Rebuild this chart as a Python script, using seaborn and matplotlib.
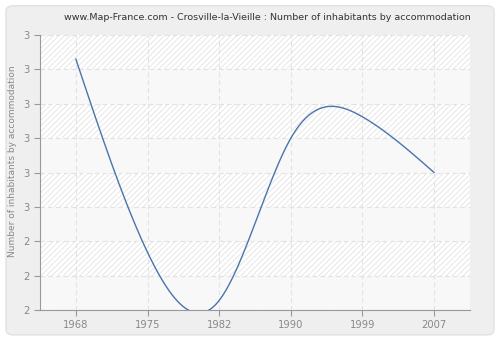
import numpy as np
import pandas as pd
import matplotlib
matplotlib.use("Agg")
import matplotlib.pyplot as plt
from matplotlib.patches import FancyBboxPatch, Rectangle
import seaborn as sns

years = ["1968", "1975", "1982", "1990", "1999", "2007"]
values = [2.93, 2.368, 2.228, 2.70, 2.762, 2.60]
y_ticks = [2.2, 2.3, 2.4, 2.5, 2.6, 2.7, 2.8, 2.9, 3.0]
y_tick_labels = ["2", "2", "2", "3", "3", "3", "3", "3", "3"]
title = "www.Map-France.com - Crosville-la-Vieille : Number of inhabitants by accommodation"
ylabel = "Number of inhabitants by accommodation"


def natural_spline(x, y, n=400):
    x = np.asarray(x, float)
    y = np.asarray(y, float)
    k = len(x)
    h = np.diff(x)
    A = np.zeros((k, k))
    b = np.zeros(k)
    A[0, 0] = A[-1, -1] = 1
    for i in range(1, k - 1):
        A[i, i - 1] = h[i - 1]
        A[i, i] = 2 * (h[i - 1] + h[i])
        A[i, i + 1] = h[i]
        b[i] = 3 * ((y[i + 1] - y[i]) / h[i] - (y[i] - y[i - 1]) / h[i - 1])
    c = np.linalg.solve(A, b)
    xs = np.linspace(x[0], x[-1], n)
    ys = np.empty_like(xs)
    for j, xv in enumerate(xs):
        i = min(np.searchsorted(x, xv, side="right") - 1, k - 2)
        dx = xv - x[i]
        bi = (y[i + 1] - y[i]) / h[i] - h[i] * (2 * c[i] + c[i + 1]) / 3
        di = (c[i + 1] - c[i]) / (3 * h[i])
        ys[j] = y[i] + bi * dx + c[i] * dx ** 2 + di * dx ** 3
    return xs, ys


sns.set_style("white")
plt.rcParams["font.family"] = ["DejaVu Sans"]
plt.rcParams["hatch.linewidth"] = 0.6
plt.rcParams["hatch.color"] = "#e3e3e3"

fig = plt.figure(figsize=(5, 3.4), dpi=100)
fig.patch.set_facecolor("white")
bg = FancyBboxPatch((0.012, 0.015), 0.976, 0.968,
                    boxstyle="round,pad=0,rounding_size=0.015",
                    transform=fig.transFigure, facecolor="#efefef",
                    edgecolor="#e2e2e2", linewidth=1, zorder=-10)
fig.patches.append(bg)

ax = fig.add_axes([0.08, 0.088, 0.86, 0.809])
ax.set_zorder(5)
ax.set_facecolor("white")
ax.add_patch(Rectangle((0, 0), 1, 1, transform=ax.transAxes, facecolor="white",
                       edgecolor="#e3e3e3", hatch="//////", linewidth=0, zorder=0))
for i in range(0, len(y_ticks) - 1, 2):
    ax.axhspan(y_ticks[i], y_ticks[i + 1], color="#f8f8f8", zorder=0.5, lw=0)

idx = np.arange(len(years))
xs, ys = natural_spline(idx, values)
df = pd.DataFrame({"x": xs, "y": ys})
sns.lineplot(data=df, x="x", y="y", ax=ax, color="#4a74ad", linewidth=1.0, zorder=3)

ax.set_xlim(-0.5, 5.5)
ax.set_ylim(y_ticks[0], y_ticks[-1])
ax.set_xticks(idx)
ax.set_xticklabels(years)
ax.set_yticks(y_ticks)
ax.set_yticklabels(y_tick_labels)
ax.grid(True, color="#e2e2e2", linestyle=(0, (4, 3)), linewidth=0.8, zorder=1)
ax.set_axisbelow(True)
for s in ["top", "right"]:
    ax.spines[s].set_visible(False)
for s in ["left", "bottom"]:
    ax.spines[s].set_color("#999999")
    ax.spines[s].set_linewidth(0.8)
ax.tick_params(axis="both", colors="#999999", labelcolor="#888888", labelsize=7.2,
               length=4, width=0.8, direction="out", left=True, bottom=True)
ax.set_xlabel("")
ax.set_ylabel(ylabel, color="#888888", fontsize=6.5)
ax.yaxis.set_label_coords(-0.053, 0.54)
fig.text(0.534, 0.95, title, ha="center", va="center", fontsize=6.8, color="#333333")

fig.savefig("out.png", dpi=100, facecolor=fig.get_facecolor())
